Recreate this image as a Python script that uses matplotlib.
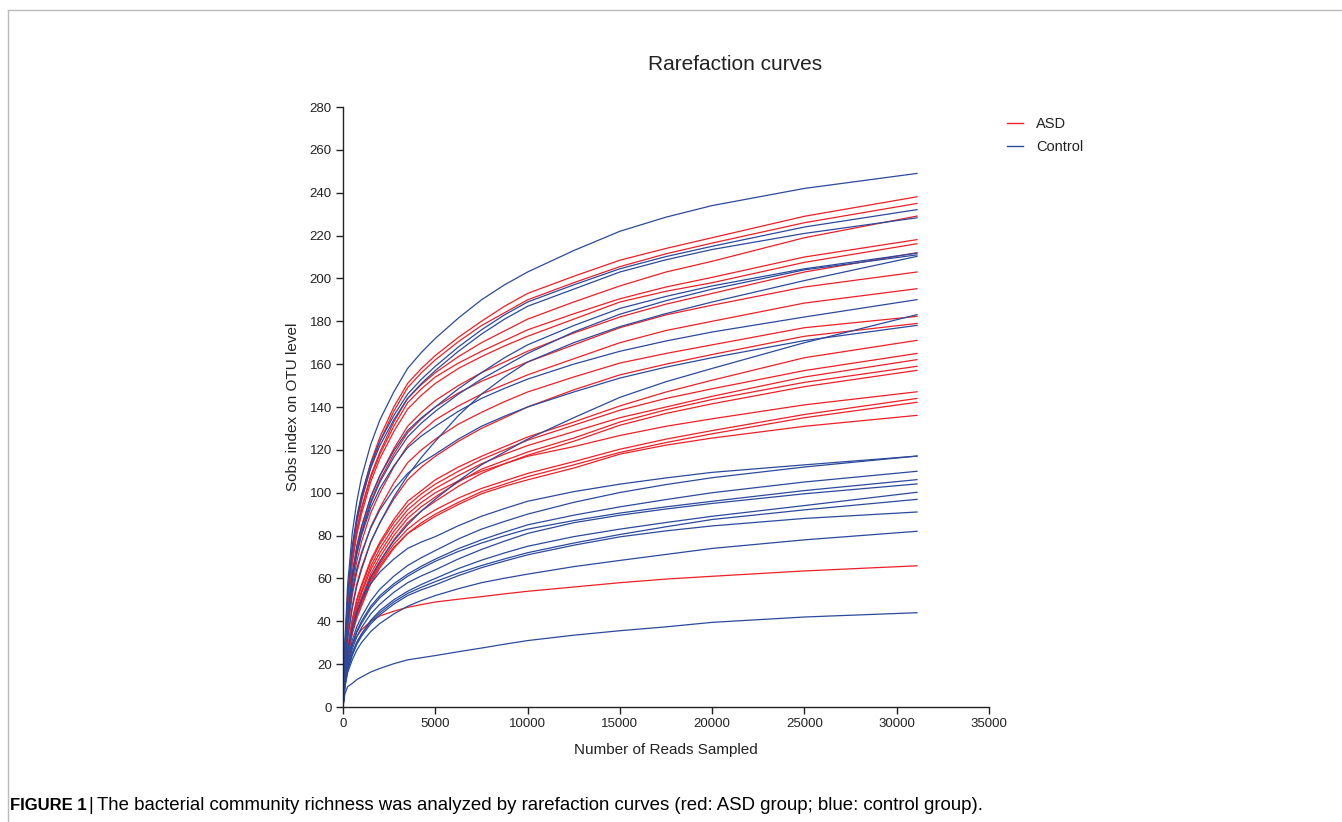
import matplotlib
matplotlib.use("Agg")
import matplotlib.pyplot as plt
from matplotlib.lines import Line2D

plt.rcParams['font.family'] = ['Liberation Sans', 'DejaVu Sans']

# Sampling depths (x grid) for every curve
reads = [0, 100, 250, 500, 750, 1000, 1500, 2000, 2750, 3500, 4250, 5000, 6250,
         7500, 8750, 10000, 12500, 15000, 17500, 20000, 25000, 31100]

# ASD group (red)
asd = [
    [0, 26, 50, 73, 87.5, 98, 114, 126, 140, 151, 158, 164, 172.5, 180, 187, 193, 201, 208.5, 214, 219, 229, 238.1],
    [0, 25.5, 49, 72, 86, 96, 112, 124, 138, 149, 156, 162, 170.5, 178, 184, 190, 198, 205.5, 211.5, 216.5, 226, 235.0],
    [0, 24.5, 47, 69, 83, 93, 108, 119, 133, 144, 150.5, 156, 163.5, 170, 175.5, 181, 189, 196.5, 203, 208, 219, 229.1],
    [0, 24.5, 47, 68, 82, 92, 107, 118, 131, 142, 148.5, 154, 160.5, 166, 171, 176, 183.5, 190.5, 196, 200.5, 210, 218.1],
    [0, 24, 46, 67, 80.5, 90, 105, 116, 128.5, 139, 145.5, 151, 158, 163.5, 168.5, 173, 181, 189, 194, 198, 207.5, 216.2],
    [0, 22, 42, 62, 75, 84, 98, 108, 120.5, 131, 137.5, 143, 150, 156, 161, 166, 174.5, 182, 188, 193, 203, 212.0],
    [0, 21.5, 41, 60, 73, 82, 96, 106, 118, 128, 134.5, 140, 146.5, 152, 156.5, 161, 169, 177, 183, 187.5, 196, 203.0],
    [0, 20, 38, 56, 68, 77, 90.5, 100, 112, 122, 128.5, 134, 140.5, 146, 150.5, 155, 162.5, 170, 175.7, 180, 188.5, 195.2],
    [0, 18, 35, 52, 63, 71, 84, 93, 104.5, 114, 120, 125, 132, 137.5, 142.5, 147, 154, 160.5, 165, 169, 177, 182.3],
    [0, 16.5, 32, 47, 57.5, 65, 77, 86, 97, 106, 112, 117, 124, 130, 135, 140, 148, 155, 160, 164.5, 173, 179.0],
    [0, 14.5, 28, 41, 50.5, 57, 68.5, 77, 87.5, 96, 101, 106, 112, 117, 121.5, 126, 133, 140.5, 147, 152.5, 163, 171.1],
    [0, 14, 27, 40, 49.5, 56, 67.5, 76, 86, 94, 99.5, 104, 110, 115.5, 120, 124.5, 131.5, 138.5, 144, 148.5, 157, 165.0],
    [0, 13.5, 26, 39, 47.5, 54, 65.5, 74, 84, 92, 97.5, 102, 108, 113.5, 118, 122, 128.5, 135, 140, 145, 154, 162.1],
    [0, 13, 25, 37, 45, 51, 62, 70, 80, 88, 93.5, 98, 105, 111, 115, 119, 125.5, 133, 138.7, 143.5, 151.5, 159.0],
    [0, 12.5, 24, 36, 44, 50, 60.5, 68, 78, 86, 91.5, 96, 103, 109, 113.5, 117.5, 124, 131.5, 137, 141.5, 149.5, 157.1],
    [0, 13.5, 26, 38, 46.5, 53, 64, 72, 82, 90, 95.5, 100, 105.5, 110, 113.5, 117, 121.5, 126.7, 131, 134.5, 141, 147.1],
    [0, 12.5, 24, 35, 43, 49, 59.5, 67, 76, 83, 88, 92, 97.5, 102, 105.5, 109, 114.5, 120.3, 125, 129, 136.5, 144.0],
    [0, 12, 23, 34, 41.5, 47, 57.5, 65, 74, 81, 86, 90, 95.5, 100.5, 104, 107.5, 113, 118.8, 123.4, 127.5, 135, 142.2],
    [0, 12.5, 24, 35, 42.5, 48, 58.5, 66, 74.5, 81, 85, 89, 94.5, 99.5, 103, 106, 111.5, 118, 122.2, 125.5, 131, 136.1],
    [0, 13, 22, 29, 33, 36, 40, 42.5, 44.7, 46.5, 47.8, 49, 50.3, 51.5, 52.8, 54, 56, 58, 59.7, 61, 63.5, 65.9],
]

# Control group (blue)
control = [
    [0, 30, 57, 81, 96, 107, 122.5, 134, 147, 158, 165.5, 172, 181.5, 190, 197, 203, 213, 222, 228.6, 234, 242, 249.0],
    [0, 27, 52, 75, 89, 99, 113.5, 124, 136, 146, 153, 159, 168, 176, 183, 189, 197, 204.5, 210.2, 215, 224, 232.1],
    [0, 26.5, 51, 74, 87.5, 97, 111.5, 122, 134, 144, 151, 157, 166, 174, 181, 187, 195, 203, 208.7, 213.5, 221, 228.3],
    [0, 22, 42, 62, 75, 84, 98, 108, 119.5, 129, 135, 140, 148.5, 156, 163, 169, 178, 186, 191.6, 196.5, 204.5, 211.8],
    [0, 21, 40, 59, 72, 81, 95, 105, 116.5, 126, 132.5, 138, 146, 153, 159, 165, 175, 183.3, 189.6, 195, 204, 211.0],
    [0, 17, 32, 46, 56.5, 64, 77, 86, 98, 108, 116.5, 124, 136, 146, 154, 161, 170, 177.5, 183.6, 189, 199, 210.3],
    [0, 22, 42, 60, 71.5, 80, 93, 102, 112.5, 121, 126.5, 131, 138, 144, 148.7, 153, 160, 166, 170.8, 175, 182, 190.1],
    [0, 13, 25, 36, 44, 50, 60.5, 68, 77.5, 85, 91.5, 97, 105.5, 113, 119, 125, 135, 144.5, 151.8, 158, 170, 183.1],
    [0, 20, 38, 54, 64.5, 72, 83.5, 92, 101.5, 109, 114, 118, 125, 131, 135.7, 140, 147, 153.5, 158.6, 163, 171, 178.1],
    [0, 14, 26, 37, 44.5, 50, 57.5, 63, 69, 74, 77, 79.5, 84.6, 89, 92.6, 96, 100.5, 104, 106.9, 109.5, 113, 117.1],
    [0, 12, 22, 31, 37.5, 42, 49.5, 55, 61, 66, 69.7, 73, 78.4, 83, 86.6, 90, 95.5, 100.1, 103.8, 107, 112, 117.1],
    [0, 11.5, 21, 29, 35.5, 40, 47, 52, 57.5, 62, 65.7, 69, 73.9, 78, 81.6, 85, 89.5, 93.4, 96.8, 100, 105, 110.0],
    [0, 11.5, 21, 29, 34.8, 39, 46, 51, 56.5, 61, 64.7, 68, 72.6, 76.5, 79.9, 83, 87, 90.5, 93.4, 96, 101, 106.1],
    [0, 10.5, 19, 27, 32.8, 37, 43.4, 48, 53.5, 58, 61.2, 64, 69.1, 73.5, 77.4, 81, 86, 89.5, 92.4, 95, 99.5, 104.1],
    [0, 10, 18, 25, 30.2, 34, 40.4, 45, 50, 54, 57.2, 60, 64.6, 68.5, 71.9, 75, 79.5, 83, 86.1, 89, 94, 100.2],
    [0, 10, 18, 25, 30.2, 34, 39.8, 44, 49, 53, 55.9, 58.5, 62.5, 66, 69.1, 72, 76.5, 80.5, 84.1, 87.5, 92, 96.9],
    [0, 9.5, 17, 24, 29.2, 33, 38.8, 43, 48, 52, 54.7, 57, 61.3, 65, 68.1, 71, 75.5, 79.4, 82.2, 84.5, 88, 91.0],
    [0, 9, 16, 22, 26.6, 30, 35.2, 39, 43.4, 47, 49.7, 52, 55.2, 58, 60.1, 62, 65.5, 68.4, 71.2, 74, 78, 82.0],
    [0, 6, 9.5, 11, 12.8, 14, 16.3, 18, 20.2, 22, 23, 24, 25.8, 27.5, 29.3, 31, 33.5, 35.6, 37.4, 39.5, 42, 44.0],
]

x_ticks = [0, 5000, 10000, 15000, 20000, 25000, 30000, 35000]
y_ticks = list(range(0, 281, 20))

RED = '#EE1F26'
BLUE = '#2B4A9E'
INK = '#222222'

fig = plt.figure(figsize=(13.42, 8.22), dpi=100)
ax = fig.add_axes([343 / 1342, 115 / 822, 646 / 1342, 600 / 822])

for ys in asd:
    ax.plot(reads, ys, color=RED, lw=0.9, solid_joinstyle='round')
for ys in control:
    ax.plot(reads, ys, color=BLUE, lw=0.9, solid_joinstyle='round')

ax.set_xlim(0, 35000)
ax.set_ylim(0, 280)
ax.set_xticks(x_ticks)
ax.set_yticks(y_ticks)
ax.tick_params(axis='both', direction='out', length=5, width=1, labelsize=9.5,
               colors=INK, pad=3)
for s in ['top', 'right']:
    ax.spines[s].set_visible(False)
for s in ['left', 'bottom']:
    ax.spines[s].set_linewidth(1.0)
    ax.spines[s].set_color(INK)

ax.set_xlabel('Number of Reads Sampled', fontsize=11, color=INK, labelpad=9)
ax.set_ylabel('Sobs index on OTU level', fontsize=11, color=INK, labelpad=7)
fig.text(735 / 1342, 1 - 65 / 822, 'Rarefaction curves', fontsize=15, ha='center',
         va='center', color=INK)

handles = [Line2D([], [], color=RED, lw=1), Line2D([], [], color=BLUE, lw=1)]
fig.legend(handles, ['ASD', 'Control'], loc='upper left',
           bbox_to_anchor=(994 / 1342, 1 - 104 / 822), frameon=False,
           fontsize=10.5, handlelength=1.1, handletextpad=0.9, labelspacing=0.6,
           labelcolor=INK)

# figure frame (top and left edges)
fig.add_artist(Line2D([8 / 1342, 1], [1 - 10 / 822, 1 - 10 / 822], color='#bbbbbb', lw=1))
fig.add_artist(Line2D([8 / 1342, 8 / 1342], [0, 1 - 10 / 822], color='#bbbbbb', lw=1))

fig.text(10 / 1342, 1 - 805 / 822, 'FIGURE 1', fontsize=12, fontweight='bold',
         va='center', ha='left', color='black')
fig.text(88 / 1342, 1 - 805 / 822, '|', fontsize=13, va='center', ha='left', color='black')
fig.text(97 / 1342, 1 - 805 / 822,
         'The bacterial community richness was analyzed by rarefaction curves (red: ASD group; blue: control group).',
         fontsize=13.4, va='center', ha='left', color='black')

fig.savefig('out.png', dpi=100)
